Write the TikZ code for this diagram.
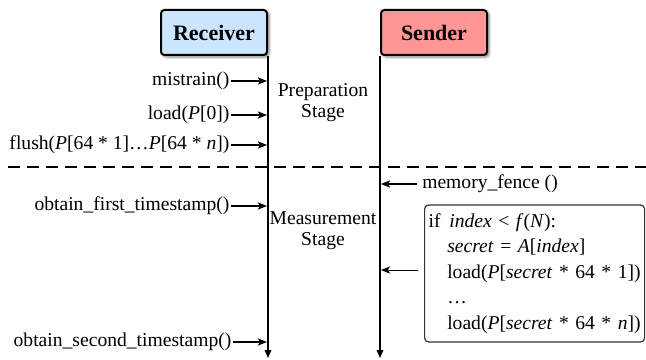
\documentclass[tikz,border=0pt]{standalone}
\usepackage{fontspec}
\setmainfont{Liberation Serif}
\usetikzlibrary{arrows.meta,shadows.blur}
\definecolor{recfill}{RGB}{204,229,255}
\definecolor{sendfill}{RGB}{255,150,150}
\begin{document}
\begin{tikzpicture}[x=0.75pt,y=-0.75pt,
  actor/.style={draw=black,line width=1.5pt,rounded corners=2.5pt,minimum width=106*0.75pt,minimum height=45*0.75pt,inner sep=0pt,font=\fontsize{16.5}{18}\selectfont\bfseries,blur shadow={shadow xshift=1.5pt,shadow yshift=-1.5pt,shadow blur radius=2pt,shadow opacity=50}},
  life/.style={line width=0.9pt,-{Triangle[length=6pt,width=5pt]}},
  msg/.style={line width=0.8pt,-{Stealth[length=7pt,width=5.5pt,inset=2pt]}},
  lbl/.style={font=\fontsize{14.7}{16}\selectfont,inner sep=1pt},
  stage/.style={font=\fontsize{14.7}{15.8}\selectfont,align=center,inner sep=0pt},
  codebox/.style={draw=black!80,line width=0.9pt,rounded corners=3pt,align=left,inner xsep=2pt,inner ysep=0pt,text width=161pt,minimum height=102.75pt,font=\fontsize{14.7}{19.1}\selectfont}
]
\useasboundingbox (0,0) rectangle (646,360);
% actors
\node[actor,fill=recfill] (rec) at (214,32.5) {Receiver};
\node[actor,fill=sendfill] (send) at (434,32.5) {Sender};
\coordinate (recEnd) at (267,358);
\coordinate (sendEnd) at (381,358);
\draw[life] (rec.south east) -- (rec.south east |- recEnd);
\draw[life] (send.south west) -- (send.south west |- sendEnd);
% dashed separator
\coordinate (dashL) at (8,167);
\coordinate (dashR) at (646,167);
\draw[line width=0.8pt,dash pattern=on 9pt off 5.25pt] (dashL) -- (dashR);
% receiver messages
\node[lbl,anchor=east] (mis) at (231,81) {mistrain()};
\node[lbl,anchor=east] (ld) at (231,115) {load(\textit{P}[0])};
\node[lbl,anchor=east] (fl) at (231,145) {flush(\textit{P}[64 * 1]\ldots\textit{P}[64 * \textit{n}])};
\node[lbl,anchor=east] (ft) at (231,206) {obtain\_first\_timestamp()};
\node[lbl,anchor=east] (st) at (233,342) {obtain\_second\_timestamp()};
\foreach \n in {mis,ld,fl,ft,st}
  \draw[msg] (\n.east) -- (\n.east -| recEnd);
% stages
\node[stage] (prep) at (323,103) {Preparation\\Stage};
\node[stage] (meas) at (323,231) {Measurement\\Stage};
% sender messages
\node[lbl,anchor=west,inner sep=0pt] (mf) at (422,184) {memory\_fence ()};
\draw[msg] ([xshift=-3.75pt]mf.west) -- (mf.west -| sendEnd);
\node[codebox,anchor=west] (code) at (424,273.5) {%
\mbox{\hspace*{1pt}if\hspace{0.45em}\textit{index} < \textit{f}(\textit{N}):}\\
\mbox{\hspace*{15pt}\textit{secret} = \textit{A}[\textit{index}]}\\
\mbox{\hspace*{15pt}load(\textit{P}[\textit{secret} * 64 * 1])}\\
\mbox{\hspace*{15pt}\ldots}\\
\mbox{\hspace*{15pt}load(\textit{P}[\textit{secret} * 64 * \textit{n}])}};
\draw[msg] ([yshift=2.6pt,xshift=-4.5pt]code.west) -- ([yshift=2.6pt]code.west -| sendEnd);
\end{tikzpicture}
\end{document}
